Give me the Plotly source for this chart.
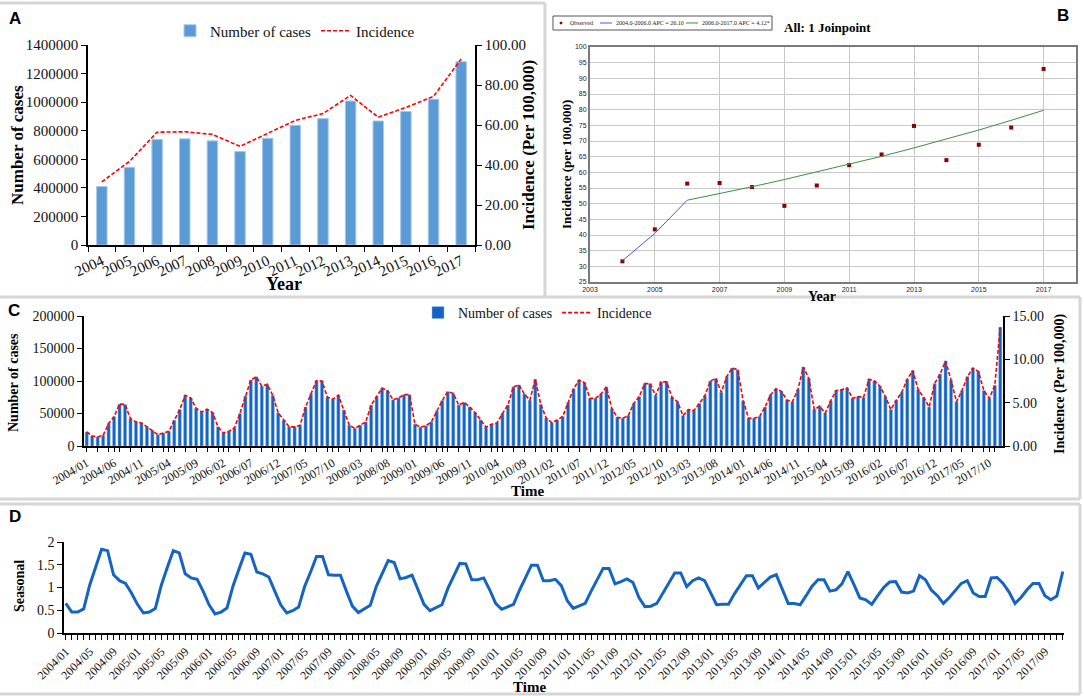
import plotly.graph_objects as go

# ---- data ----
years = ["2004", "2005", "2006", "2007", "2008", "2009", "2010",
         "2011", "2012", "2013", "2014", "2015", "2016", "2017"]
year_num = [2004, 2005, 2006, 2007, 2008, 2009, 2010,
            2011, 2012, 2013, 2014, 2015, 2016, 2017]
cases_year = [410000, 544000, 738000, 743000, 729000, 654000, 747000,
              838000, 885000, 1008000, 868000, 935000, 1021000, 1283000]
incidence_year = [31.6, 41.8, 56.4, 56.6, 55.3, 49.3, 55.8,
                  62.3, 65.7, 74.8, 63.9, 68.8, 74.3, 93.0]

# joinpoint fit (panel B)
seg1_years = [2004, 2005, 2006]
seg1_fit = [31.8, 40.5, 51.1]
seg2_years = [2006, 2007, 2008, 2009, 2010, 2011, 2012, 2013, 2014, 2015, 2016, 2017]
seg2_fit = [51.1, 53.2, 55.4, 57.7, 60.1, 62.6, 65.1, 67.8, 70.6, 73.5, 76.6, 79.8]

# monthly categories 2004/01 .. 2017/12
months = [f"{y}/{m:02d}" for y in range(2004, 2018) for m in range(1, 13)]

cases_month = [
    21600, 15500, 14000, 16500, 34500, 45000, 64500, 64000, 42000, 37000, 35500, 29500,
    24000, 17500, 20000, 22500, 39500, 56000, 78000, 74000, 58000, 52500, 56500, 51500,
    29500, 20000, 22500, 28000, 50000, 77000, 101500, 106500, 92000, 95000, 78000, 51000,
    39500, 29500, 29500, 32000, 60000, 80000, 100500, 100000, 75000, 72000, 78000, 55000,
    32000, 27000, 32000, 37000, 63000, 76000, 89000, 85000, 71000, 74000, 79000, 79000,
    33500, 29000, 31000, 37000, 54000, 70000, 83500, 81000, 63000, 67000, 60000, 51500,
    40000, 29000, 33500, 35500, 50000, 63000, 91000, 94000, 80000, 70500, 102500, 64000,
    42700, 36000, 40000, 45300, 66700, 88000, 101300, 97300, 73300, 73300, 80000, 90700,
    57300, 44000, 42700, 46700, 65300, 76000, 96000, 96000, 77300, 98700, 98700, 74700,
    68000, 46700, 56000, 54700, 65300, 77300, 100000, 104000, 82700, 106700, 120000, 117300,
    69300, 42700, 42700, 45300, 60000, 78700, 88000, 84000, 70700, 68000, 86700, 121300,
    104000, 56000, 61300, 50700, 69300, 85300, 86700, 89300, 73300, 76000, 74700, 102700,
    100000, 92000, 76000, 56000, 70700, 82700, 102700, 116000, 86700, 74700, 60000, 96000,
    110700, 130700, 101300, 68000, 85300, 106700, 120000, 114700, 85300, 73300, 93300, 182700,
]

incidence_month = [
    1.62, 1.16, 1.05, 1.24, 2.59, 3.38, 4.84, 4.80, 3.15, 2.78, 2.66, 2.21,
    1.80, 1.31, 1.50, 1.69, 2.96, 4.20, 5.85, 5.55, 4.35, 3.94, 4.24, 3.86,
    2.21, 1.50, 1.69, 2.10, 3.75, 5.78, 7.61, 7.99, 6.90, 7.13, 5.85, 3.83,
    2.96, 2.21, 2.21, 2.40, 4.50, 6.00, 7.54, 7.50, 5.63, 5.40, 5.85, 4.13,
    2.40, 2.03, 2.40, 2.78, 4.73, 5.70, 6.68, 6.38, 5.33, 5.55, 5.93, 5.93,
    2.51, 2.18, 2.33, 2.78, 4.05, 5.25, 6.26, 6.08, 4.73, 5.03, 4.50, 3.86,
    3.00, 2.18, 2.51, 2.66, 3.75, 4.73, 6.83, 7.05, 6.00, 5.29, 7.69, 4.80,
    3.20, 2.70, 3.00, 3.40, 5.00, 6.60, 7.60, 7.30, 5.50, 5.50, 6.00, 6.80,
    4.30, 3.30, 3.20, 3.50, 4.90, 5.70, 7.20, 7.20, 5.80, 7.40, 7.40, 5.60,
    5.10, 3.50, 4.20, 4.10, 4.90, 5.80, 7.50, 7.80, 6.20, 8.00, 9.00, 8.80,
    5.20, 3.20, 3.20, 3.40, 4.50, 5.90, 6.60, 6.30, 5.30, 5.10, 6.50, 9.10,
    7.80, 4.20, 4.60, 3.80, 5.20, 6.40, 6.50, 6.70, 5.50, 5.70, 5.60, 7.70,
    7.50, 6.90, 5.70, 4.20, 5.30, 6.20, 7.70, 8.70, 6.50, 5.60, 4.50, 7.20,
    8.30, 9.80, 7.60, 5.10, 6.40, 8.00, 9.00, 8.60, 6.40, 5.50, 7.00, 13.70,
]

seasonal = [
    0.65, 0.46, 0.46, 0.53, 1.05, 1.44, 1.84, 1.81, 1.28, 1.15, 1.09, 0.88,
    0.63, 0.44, 0.46, 0.54, 1.05, 1.44, 1.81, 1.76, 1.30, 1.21, 1.18, 0.92,
    0.62, 0.42, 0.46, 0.55, 1.03, 1.40, 1.76, 1.73, 1.34, 1.30, 1.23, 0.92,
    0.62, 0.44, 0.49, 0.57, 1.02, 1.34, 1.68, 1.68, 1.28, 1.27, 1.27, 0.92,
    0.59, 0.45, 0.54, 0.61, 1.02, 1.30, 1.59, 1.55, 1.19, 1.22, 1.27, 0.95,
    0.63, 0.49, 0.55, 0.62, 0.98, 1.26, 1.53, 1.52, 1.17, 1.17, 1.21, 0.95,
    0.65, 0.52, 0.58, 0.63, 0.94, 1.21, 1.49, 1.49, 1.15, 1.15, 1.18, 1.04,
    0.71, 0.54, 0.59, 0.65, 0.92, 1.17, 1.42, 1.42, 1.08, 1.13, 1.19, 1.11,
    0.78, 0.58, 0.59, 0.65, 0.88, 1.09, 1.32, 1.32, 1.02, 1.15, 1.21, 1.15,
    0.88, 0.62, 0.63, 0.63, 0.86, 1.07, 1.26, 1.26, 0.99, 1.11, 1.23, 1.28,
    0.95, 0.65, 0.65, 0.62, 0.82, 1.03, 1.17, 1.17, 0.92, 0.95, 1.08, 1.35,
    1.07, 0.77, 0.73, 0.63, 0.82, 1.00, 1.12, 1.13, 0.90, 0.88, 0.92, 1.26,
    1.17, 0.94, 0.82, 0.65, 0.78, 0.94, 1.09, 1.15, 0.88, 0.80, 0.80, 1.21,
    1.22, 1.09, 0.90, 0.65, 0.78, 0.95, 1.09, 1.09, 0.82, 0.73, 0.81, 1.35,
]

c_labels = ["2004/01", "2004/06", "2004/11", "2005/04", "2005/09", "2006/02", "2006/07",
            "2006/12", "2007/05", "2007/10", "2008/03", "2008/08", "2009/01", "2009/06",
            "2009/11", "2010/04", "2010/09", "2011/02", "2011/07", "2011/12", "2012/05",
            "2012/10", "2013/03", "2013/08", "2014/01", "2014/06", "2014/11", "2015/04",
            "2015/09", "2016/02", "2016/07", "2016/12", "2017/05", "2017/10"]

d_labels = ["2004/01", "2004/05", "2004/09", "2005/01", "2005/05", "2005/09", "2006/01",
            "2006/05", "2006/09", "2007/01", "2007/05", "2007/09", "2008/01", "2008/05",
            "2008/09", "2009/01", "2009/05", "2009/09", "2010/01", "2010/05", "2010/09",
            "2011/01", "2011/05", "2011/09", "2012/01", "2012/05", "2012/09", "2013/01",
            "2013/05", "2013/09", "2014/01", "2014/05", "2014/09", "2015/01", "2015/05",
            "2015/09", "2016/01", "2016/05", "2016/09", "2017/01", "2017/05", "2017/09"]

b_legend_names = ["Observed", "2004.0-2006.0 APC = 26.10", "2006.0-2017.0 APC = 4.12*"]

# ---- styling helpers ----
W, H = 1084, 696
SERIF = "Liberation Serif"
SANS = "Liberation Sans"
NARROW = "Liberation Sans Narrow"
OBS_COL, SEG1_COL, SEG2_COL = "#8b0000", "#5050ff", "#3d8f3d"


def px(x0, x1):
    return [x0 / W, x1 / W]


def py(y_top, y_bot):
    return [1 - y_bot / H, 1 - y_top / H]


fig = go.Figure()

# Panel A
fig.add_trace(go.Bar(x=years, y=cases_year, name="Number of cases",
                     marker=dict(color="#5b9bd5", line=dict(color="#a8c9ec", width=1)),
                     width=0.38, xaxis="x", yaxis="y", legend="legend"))
fig.add_trace(go.Scatter(x=years, y=incidence_year, name="Incidence", mode="lines",
                         line=dict(color="red", dash="4px,2px", width=1.6),
                         xaxis="x", yaxis="y2", legend="legend"))

# Panel B
fig.add_trace(go.Scatter(x=year_num, y=incidence_year, name=b_legend_names[0], mode="markers",
                         marker=dict(color=OBS_COL, symbol="square", size=4),
                         xaxis="x2", yaxis="y3", showlegend=False))
fig.add_trace(go.Scatter(x=seg1_years, y=seg1_fit, name=b_legend_names[1],
                         mode="lines", line=dict(color=SEG1_COL, width=1),
                         xaxis="x2", yaxis="y3", showlegend=False))
fig.add_trace(go.Scatter(x=seg2_years, y=seg2_fit, name=b_legend_names[2],
                         mode="lines", line=dict(color=SEG2_COL, width=1),
                         xaxis="x2", yaxis="y3", showlegend=False))

# Panel C
fig.add_trace(go.Bar(x=months, y=cases_month, name="Number of cases",
                     marker=dict(color="#1463c4", line=dict(color="#8fbbef", width=0.5)),
                     xaxis="x3", yaxis="y4", legend="legend3"))
fig.add_trace(go.Scatter(x=months, y=incidence_month, name="Incidence", mode="lines",
                         line=dict(color="red", dash="4px,2px", width=1.6),
                         xaxis="x3", yaxis="y5", legend="legend3"))

# Panel D
fig.add_trace(go.Scatter(x=months, y=seasonal, mode="lines", showlegend=False,
                         line=dict(color="#1565c0", width=3),
                         xaxis="x4", yaxis="y6"))

axis_line = dict(showline=True, linecolor="black", linewidth=1.5, ticks="outside",
                 tickcolor="black", showgrid=False, zeroline=False, automargin=False)

c_ticks = sorted(set(list(range(0, 168, 2)) + [months.index(m) for m in c_labels]))
c_tickvals = [months[i] for i in c_ticks]
c_ticktext = [months[i] if months[i] in c_labels else "" for i in c_ticks]
d_ticktext = [m if m in d_labels else "" for m in months]

b_axis = dict(tickfont=dict(size=7, family=SANS, color="#222"), showgrid=True,
              gridcolor="#c8c8c8", showline=True, mirror=True, linecolor="#7a7a7a",
              linewidth=2, ticks="", zeroline=False, automargin=False)

fig.update_layout(
    width=W, height=H, margin=dict(l=0, r=0, t=0, b=0, autoexpand=False),
    paper_bgcolor="white", plot_bgcolor="white", bargap=0.42,
    font=dict(family=SERIF, color="#111"),
    # A
    xaxis=dict(domain=px(88, 475), anchor="y", type="category", tickson="boundaries",
               tickangle=-25, tickfont=dict(size=15), ticklen=5,
               range=[-0.5, 13.5], **axis_line),
    yaxis=dict(domain=py(45, 245), anchor="x", range=[0, 1400000], dtick=200000,
               tickformat="d", tickfont=dict(size=15), ticklen=5, **axis_line),
    yaxis2=dict(overlaying="y", side="right", anchor="x", range=[0, 100], dtick=20,
                tickformat=".2f", tickfont=dict(size=15), ticklen=5, **axis_line),
    # B
    xaxis2=dict(domain=px(590, 1076), anchor="y3", range=[2003, 2018], tick0=2003, dtick=2,
                **b_axis),
    yaxis3=dict(domain=py(47, 282), anchor="x2", range=[25, 100], dtick=5, **b_axis),
    # C
    xaxis3=dict(domain=px(84, 1003), anchor="y4", type="category", range=[-0.5, 167.5],
                tickmode="array", tickvals=c_tickvals, ticktext=c_ticktext,
                tickangle=-30, tickfont=dict(size=12), ticklen=4, **axis_line),
    yaxis4=dict(domain=py(316, 446), anchor="x3", range=[0, 200000], dtick=50000,
                tickformat="d", tickfont=dict(size=14), ticklen=5, **axis_line),
    yaxis5=dict(overlaying="y4", side="right", anchor="x3", range=[0, 15], dtick=5,
                tickformat=".2f", tickfont=dict(size=14), ticklen=5, **axis_line),
    # D
    xaxis4=dict(domain=px(64, 1064), anchor="y6", type="category", range=[-0.3, 167.2],
                tickmode="array", tickvals=months, ticktext=d_ticktext,
                tickangle=-45, tickfont=dict(size=12), ticklen=5, **axis_line),
    yaxis6=dict(domain=py(542, 633), anchor="x4", range=[0, 2], dtick=0.5,
                tickfont=dict(size=14), ticklen=5, **axis_line),
    legend=dict(orientation="h", x=170 / W, y=1 - 31 / H, xanchor="left", yanchor="middle",
                font=dict(size=15, family=SERIF), bgcolor="rgba(0,0,0,0)"),
    legend3=dict(orientation="h", x=418 / W, y=1 - 313 / H, xanchor="left", yanchor="middle",
                 font=dict(size=14, family=SERIF), bgcolor="rgba(0,0,0,0)"),
)


def line_px(x0, y0, x1, y1, color, width):
    fig.add_shape(type="line", xref="paper", yref="paper",
                  x0=x0 / W, x1=x1 / W, y0=1 - y0 / H, y1=1 - y1 / H,
                  line=dict(color=color, width=width))


# panel borders
BORDER = "#d6d6d6"
line_px(0, 3, 545, 3, BORDER, 3)
line_px(545, 3, 545, 297, BORDER, 3)
line_px(0, 297, 1080, 297, BORDER, 3)
line_px(1080, 297, 1080, 499, BORDER, 3)
line_px(0, 499, 1080, 499, BORDER, 3)
line_px(0, 504, 1080, 504, BORDER, 3)
line_px(1080, 504, 1080, 694, BORDER, 3)
line_px(0, 694, 1080, 694, BORDER, 3)

# panel B legend box (drawn by hand, like the joinpoint software output)
fig.add_shape(type="rect", xref="paper", yref="paper",
              x0=553 / W, x1=772 / W, y0=1 - 30 / H, y1=1 - 16 / H,
              line=dict(color="#555", width=1), fillcolor="white")
fig.add_shape(type="rect", xref="paper", yref="paper",
              x0=560 / W, x1=562 / W, y0=1 - 24 / H, y1=1 - 22 / H,
              line=dict(color=OBS_COL, width=0.5), fillcolor=OBS_COL)
line_px(600, 23, 612, 23, SEG1_COL, 1)
line_px(686, 23, 698, 23, SEG2_COL, 1)


def note(text, x, y, size, family=SERIF, angle=0, bold=True, anchor="center", color="black"):
    fig.add_annotation(text=f"<b>{text}</b>" if bold else text, x=x / W, y=1 - y / H,
                       xref="paper", yref="paper", showarrow=False, textangle=angle,
                       font=dict(size=size, family=family, color=color),
                       xanchor=anchor, yanchor="middle")


note(b_legend_names[0], 568, 23, 6, NARROW, bold=False, anchor="left", color="#222")
note(b_legend_names[1], 614, 23, 6, NARROW, bold=False, anchor="left", color="#222")
note(b_legend_names[2], 700, 23, 6, NARROW, bold=False, anchor="left", color="#222")

# panel letters
note("A", 15, 19, 17, SANS)
note("B", 1063, 16, 17, SANS)
note("C", 14, 310, 17, SANS)
note("D", 15, 516, 17, SANS)

# axis titles
note("Number of cases", 17, 145, 17, angle=-90)
note("Incidence (Per 100,000)", 528, 145, 17, angle=-90)
note("Year", 284, 284, 18)

note("All: 1 Joinpoint", 827, 27, 13)
note("Incidence (per 100,000)", 567, 165, 13, angle=-90)
note("Year", 822, 296, 14)

note("Number of cases", 13, 383, 14, angle=-90)
note("Incidence (Per 100,000)", 1060, 384, 14, angle=-90)
note("Time", 527, 491, 15)

note("Seasonal", 19, 586, 14, angle=-90)
note("Time", 529, 687, 15)

fig.write_html("out.html", config={"displayModeBar": False},
               post_script="document.body.style.margin = '0px';")
